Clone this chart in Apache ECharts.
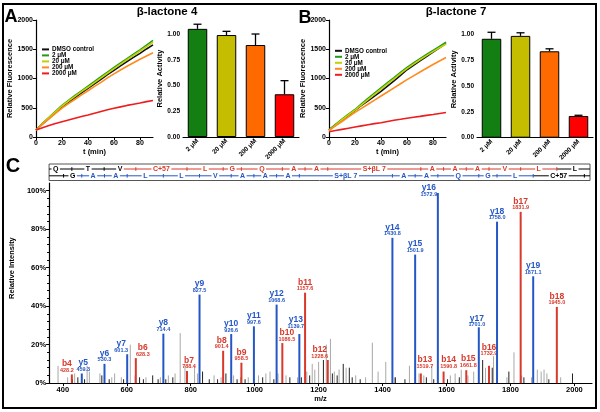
<!DOCTYPE html>
<html><head><meta charset="utf-8">
<script src="https://cdn.jsdelivr.net/npm/echarts@6/dist/echarts.min.js"></script>
<style>html,body{margin:0;padding:0;background:#fff}#c{width:600px;height:412px}</style>
</head><body><div id="c"></div>
<script>
// ---------- DATA ----------
const seriesNames = ['DMSO control','2 μM','20 μM','200 μM','2000 μM'];
const timeMin = [0,5,10,15,20,25,30,35,40,45,50,55,60,65,70,75,80,85,90];
// panel A (β-lactone 4) fluorescence traces
const a_dmso = [120,225,320,420,515,595,675,755,830,910,985,1065,1140,1215,1290,1360,1430,1505,1575];
const a_2    = [120,235,335,440,540,625,710,790,870,950,1030,1110,1190,1265,1340,1415,1490,1570,1650];
const a_20   = [115,230,330,430,530,615,695,775,850,930,1010,1090,1170,1245,1320,1395,1470,1545,1620];
const a_200  = [115,220,310,405,495,570,645,720,790,865,935,1010,1080,1145,1210,1270,1330,1385,1440];
const a_2000 = [120,160,195,230,260,290,320,350,375,405,435,465,490,515,540,560,580,605,625];
// panel B (β-lactone 7) fluorescence traces
const b_dmso = [120,205,290,370,455,540,620,700,780,870,960,1055,1150,1225,1300,1375,1450,1525,1600];
const b_2    = [120,215,305,390,470,565,660,750,840,930,1015,1105,1190,1265,1340,1410,1480,1550,1620];
const b_20   = [110,205,295,380,460,550,640,730,820,910,995,1085,1170,1245,1320,1390,1460,1525,1590];
const b_200  = [110,190,265,345,420,490,560,630,700,770,840,910,980,1045,1110,1175,1240,1300,1360];
const b_2000 = [90,110,130,150,170,190,210,228,245,265,285,302,320,337,353,370,385,403,420];
// relative activity bars
const barCats = ['2 μM','20 μM','200 μM','2000 μM'];
const actA = [1.05,0.99,0.893,0.415];
const errA = [0.045,0.036,0.107,0.132];
const actB = [0.957,0.985,0.836,0.21];
const errB = [0.063,0.030,0.024,0.007];
const flTicks = [0,20,40,60,80];
const actTicks = [0,0.25,0.5,0.75,1.0];
// spectrum: y ions
const yNames = ['y5','y6','y7','y8','y9','y10','y11','y12','y13','y14','y15','y16','y17','y18','y19'];
const yMz    = [459.3,530.3,601.3,714.4,827.5,926.6,997.6,1068.6,1139.7,1430.8,1501.9,1572.9,1701.0,1758.0,1871.1];
const yInt   = [5,10,15,25.7,46,25.5,29.5,40.8,25.5,75.5,66.8,98.8,29,83.9,55.5];
// spectrum: b ions
const bNames = ['b4','b6','b7','b8','b9','b10','b11','b12','b13','b14','b15','b16','b17','b18'];
const bMz    = [428.2,628.3,788.4,901.4,958.5,1086.5,1157.6,1228.6,1519.7,1590.8,1661.8,1732.9,1831.9,1945.0];
const bInt   = [4.5,13,6.3,16.8,10.6,20.8,47,12,5,6,6.7,9,89,39.6];
// unassigned peaks
const grayMz  = [385,415,437,476,483,516,553,562,583,611,626,660,705,730,751,767,782,812,821,873,895,934,956,980,1012,1035,1048,1073,1098,1134,1163,1180,1188,1200,1224,1237,1249,1264,1286,1316,1347,1368,1386,1410,1438,1484,1514,1529,1554,1612,1627,1646,1667,1685,1722,1747,1789,1811,1835,1866,1884,1896,1905,1914,1957];
const grayInt = [9,3,5,9,6,5,3,5,3,20,4,3,3,4,5,26,9,9,5,4,3,4,3,3,4,5,6,5,4,3,6,10,7,11,20,23,6,7,8,4,3,21,6,11,3,9,5,4,9,4,5,7,4,6,8,14,3,16,4,3,7,6,7,5,3];
const blackMz  = [430,447,468,522,545,590,640,652,681,698,722,744,837,858,884,910,945,970,1025,1060,1110,1146,1172,1215,1243,1258,1277,1296,1305,1330,1440,1470,1537,1560,1603,1640,1713,1743,1795,1842,1920,1994];
const blackInt = [2,3,2,4,2,2,3,2,4,2,2,3,6,2,2,5,2,2,3,2,3,3,4,12,5,4,10,8,3,2,3,2,3,2,2,3,12,8,6,3,2,5];
const mzTicks = [400,600,800,1000,1200,1400,1600,1800,2000];
const intTicks = [0,20,40,60,80,100];
// fragment ladders (m/z of cleavage positions, residues between)
const bLadderMz = [327.2,428.2,529.2,628.3,788.4,901.4,958.5,1086.5,1157.6,1228.6,1519.7,1590.8,1661.8,1732.9,1831.9,1945.0,2058.1];
const topResidues = ['Q','T','V','C+57','L','G','Q','A','A','S+βL 7','A','A','A','V','L','L'];
const topMarked   = [0,0,0,1,1,1,1,1,1,1,1,1,1,1,1,0];
const yLadderMz = [402.3,459.3,530.3,601.3,714.4,827.5,926.6,997.6,1068.6,1139.7,1430.8,1501.9,1572.9,1701.0,1758.0,1871.1,2031.1];
const botResidues = ['G','A','A','L','L','V','A','A','A','S+βL 7','A','A','Q','G','L','C+57'];
const botMarked   = [0,1,1,1,1,1,1,1,1,1,1,1,1,1,1,0];

// ---------- STYLE ----------
const F = '"Liberation Sans", Arial, sans-serif';
const lineColors = ['#111111','#1e9c1e','#c4d000','#ff8a1e','#ee1c1c'];
const barColors = ['#137f13','#c4bd00','#ff6a00','#ff0000'];
const BLUE = '#2457c5', RED = '#d8392b';
const labelShift = { b4:[-5,0], y5:[1.5,0], y7:[-6,0], b6:[7,0], b7:[2,0], b8:[-1.5,0], b10:[4.5,0], y13:[-3.5,-3.5], b12:[-8,0], b13:[4,-3], y16:[-9,5], b14:[5,-1], b15:[2,-1], y17:[-2,1.5], b16:[0,-8] };
const plain = v => String(v);

const axisBase = (extra) => Object.assign({
  axisLine:{lineStyle:{color:'#000',width:1.2}},
  axisTick:{lineStyle:{color:'#000',width:1},length:3},
  axisLabel:{color:'#000',fontWeight:'bold',fontSize:7,fontFamily:F,margin:3},
  splitLine:{show:false},
  nameTextStyle:{color:'#000',fontWeight:'bold',fontSize:7.5,fontFamily:F}
}, extra);

function deepAxis(extra){
  const a = axisBase({});
  for (const k in extra){
    if (typeof extra[k]==='object' && !Array.isArray(extra[k]) && a[k]) a[k] = Object.assign({}, a[k], extra[k]);
    else a[k] = extra[k];
  }
  return a;
}

const chart = echarts.init(document.getElementById('c'), null, {renderer:'canvas'});

const grids = [
  {left:36, top:20, width:117, height:117},
  {left:183, top:20, width:116, height:117},
  {left:329, top:20, width:117, height:117},
  {left:477, top:21, width:116, height:116.7},
  {left:36, top:183, width:556, height:206.3}
];

function lineX(gi){ return deepAxis({type:'value', gridIndex:gi, min:0, max:90,
  axisLabel:{customValues:flTicks, formatter:plain}, axisTick:{customValues:flTicks},
  name:'t (min)', nameLocation:'middle', nameGap:9}); }
function lineY(gi){ return deepAxis({type:'value', gridIndex:gi, min:0, max:2000, interval:500,
  axisLabel:{formatter:plain},
  name:'Relative Fluorescence', nameLocation:'middle', nameGap:18}); }
function barX(gi){ return deepAxis({type:'category', gridIndex:gi, data:barCats,
  axisTick:{show:false}, axisLabel:{rotate:45, interval:0, fontSize:6.5, margin:3}}); }
function barY(gi, mx){ return deepAxis({type:'value', gridIndex:gi, min:0, max:mx,
  axisLabel:{customValues:actTicks, fontSize:6.5, formatter:v=>v.toFixed(2)}, axisTick:{customValues:actTicks},
  name:'Relative Activity', nameLocation:'middle', nameGap:19}); }

const traceSets = [[a_dmso,a_2,a_20,a_200,a_2000],[b_dmso,b_2,b_20,b_200,b_2000]];
const series = [];
traceSets.forEach((set, k) => {
  set.forEach((arr, i) => {
    series.push({type:'line', name:seriesNames[i], xAxisIndex:k*2, yAxisIndex:k*2,
      data: timeMin.map((t,j)=>[t, arr[j]]), symbol:'none', smooth:false,
      lineStyle:{color:lineColors[i], width:1.6}, itemStyle:{color:lineColors[i]}, z: 2+i, animation:false});
  });
});

function barSeries(gi, vals, errs){
  series.push({type:'bar', xAxisIndex:gi, yAxisIndex:gi, barWidth:19.5, animation:false,
    data: vals.map((v,i)=>({value:v, itemStyle:{color:barColors[i], borderColor:'#000', borderWidth:1}}))});
  series.push({type:'custom', xAxisIndex:gi, yAxisIndex:gi, animation:false, z:5,
    data: vals.map((v,i)=>[i, v, v+errs[i]]),
    renderItem(params, api){
      const i=api.value(0), v=api.value(1), e=api.value(2);
      const p0=api.coord([i,v]), p1=api.coord([i,e]);
      return {type:'group', children:[
        {type:'line', shape:{x1:p0[0],y1:p0[1],x2:p1[0],y2:p1[1]}, style:{stroke:'#000',lineWidth:1.3}},
        {type:'line', shape:{x1:p1[0]-4,y1:p1[1],x2:p1[0]+4,y2:p1[1]}, style:{stroke:'#000',lineWidth:1.3}}
      ]};
    }});
}
barSeries(1, actA, errA);
barSeries(3, actB, errB);

function noiseSeries(mz, ints, color){
  series.push({type:'custom', xAxisIndex:4, yAxisIndex:4, animation:false, z:2,
    data: mz.map((m,i)=>[m, ints[i]]),
    renderItem(params, api){
      const p0=api.coord([api.value(0),0]), p1=api.coord([api.value(0),api.value(1)]);
      return {type:'line', shape:{x1:p0[0],y1:p0[1],x2:p1[0],y2:p1[1]}, style:{stroke:color,lineWidth:1}};
    }});
}
noiseSeries(grayMz, grayInt, '#a8a8a8');
noiseSeries(blackMz, blackInt, '#222');

function ionSeries(names, mz, ints, color){
  series.push({type:'custom', xAxisIndex:4, yAxisIndex:4, animation:false, z:6, clip:false,
    data: mz.map((m,i)=>[m, ints[i]]),
    renderItem(params, api){
      const m=api.value(0), v=api.value(1);
      const p0=api.coord([m,0]), p1=api.coord([m,v]);
      const nm = names[params.dataIndex];
      const off = labelShift[nm] || [0,0];
      return {type:'group', children:[
        {type:'line', shape:{x1:p0[0],y1:p0[1],x2:p1[0],y2:p1[1]}, style:{stroke:color,lineWidth:2}},
        {type:'text', x:p1[0]+off[0], y:p1[1]-10.5+off[1], style:{text:nm, fill:color, font:'bold 8.5px '+F, align:'center', verticalAlign:'middle'}},
        {type:'text', x:p1[0]+off[0], y:p1[1]-4+off[1], style:{text:m.toFixed(1), fill:color, font:'bold 5.5px '+F, align:'center', verticalAlign:'middle'}}
      ]};
    }});
}
ionSeries(bNames, bMz, bInt, RED);
ionSeries(yNames, yMz, yInt, BLUE);

// fragment ladder drawn through the spectrum's m/z scale
function ladderRow(api, cs, ticksMz, residues, marked, color, y, children){
  const L = cs.x, R = cs.x + cs.width - 2;
  const t = ticksMz.map(m => api.coord([m,0])[0]);
  const n = residues.length;
  const c = [];
  for (let i=0;i<n;i++) c.push(Math.max((t[i]+t[i+1])/2, L+4));
  const seg = (x1,x2,col) => { const a=Math.max(L,Math.min(x1,x2)), b=Math.min(R,Math.max(x1,x2)); if (b>a) children.push({type:'line', shape:{x1:a,y1:y,x2:b,y2:y}, style:{stroke:col,lineWidth:1}}); };
  const tick = (x,col) => { if (x>L && x<R) children.push({type:'line', shape:{x1:x,y1:y-1.8,x2:x,y2:y+1.8}, style:{stroke:col,lineWidth:1}}); };
  seg(L, c[0], '#000'); tick(t[0], '#000');
  for (let i=0;i<n-1;i++){
    const lc = (marked[i]||marked[i+1]) ? color : '#000';
    const rc = marked[i+1] ? color : '#000';
    seg(c[i], t[i+1], lc); seg(t[i+1], c[i+1], rc); tick(t[i+1], lc);
  }
  seg(c[n-1], R, '#000'); tick(t[n], '#000');
  for (let i=0;i<n;i++){
    children.push({type:'text', x:c[i], y:y, z2:10, style:{text:residues[i], fill: marked[i]?color:'#000', font:'bold 7px '+F, align:'center', verticalAlign:'middle', backgroundColor:'#fff', padding:[0,1.5], lineHeight:6}});
  }
}
series.push({type:'custom', xAxisIndex:4, yAxisIndex:4, animation:false, clip:false, z:7,
  data:[[400,0]],
  renderItem(params, api){
    const cs = params.coordSys;
    const children = [{type:'rect', shape:{x:cs.x, y:164, width:cs.width-2, height:16.5}, style:{stroke:'#555', fill:'none', lineWidth:1}}];
    ladderRow(api, cs, bLadderMz, topResidues, topMarked, RED, 169, children);
    ladderRow(api, cs, yLadderMz, botResidues, botMarked, BLUE, 175.8, children);
    return {type:'group', children};
  }});

const legendBase = (left, top) => ({orient:'vertical', left, top, padding:0, itemGap:0, itemWidth:7, itemHeight:2, icon:'rect',
  data: seriesNames, selectedMode:false,
  textStyle:{color:'#000', fontWeight:'bold', fontSize:6.3, fontFamily:F, lineHeight:5.8, padding:[0,0,0,-2]}});

const txt = (x,y,text,size,align) => ({type:'text', x, y, style:{text, font:'bold '+size+'px '+F, fill:'#000', align:align||'center', verticalAlign:'middle'}});

chart.setOption({
  animation:false,
  backgroundColor:'#fff',
  grid: grids,
  xAxis: [lineX(0), barX(1), lineX(2), barX(3),
    deepAxis({type:'value', gridIndex:4, min:357, max:2055, axisLabel:{customValues:mzTicks, fontSize:7.5, formatter:plain}, axisTick:{customValues:mzTicks},
      name:'m/z', nameLocation:'middle', nameGap:9})],
  yAxis: [lineY(0), barY(1,1.136), lineY(2), barY(3,1.129),
    deepAxis({type:'value', gridIndex:4, min:0, max:104, axisLabel:{customValues:intTicks, formatter:'{value}%', fontSize:7.5}, axisTick:{customValues:intTicks},
      minorTick:{show:true, splitNumber:5, length:2, lineStyle:{color:'#000'}},
      name:'Relative Intensity', nameLocation:'middle', nameGap:19,
      nameTextStyle:{padding:[0,0,0,30]}})],
  legend: [legendBase(42, 46.4), legendBase(335, 47.8)],
  series,
  graphic: [
    {type:'rect', shape:{x:3, y:4, width:593, height:404}, style:{stroke:'#000', fill:'none', lineWidth:2}},
    txt(11, 17, 'A', 18), txt(305, 18, 'B', 18), txt(13, 166, 'C', 20),
    txt(167, 12, 'β-lactone 4', 11.5), txt(456, 12, 'β-lactone 7', 11.5)
  ]
});
</script></body></html>
